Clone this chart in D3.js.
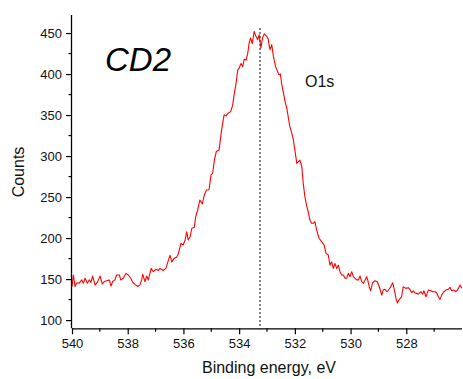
<!DOCTYPE html>
<html>
<head>
<meta charset="utf-8">
<script src="https://cdn.jsdelivr.net/npm/d3@7"></script>
<style>
  html, body { margin: 0; padding: 0; background: #fff; }
  svg { display: block; font-family: Arial, "Liberation Sans", sans-serif; }
</style>
</head>
<body>
<svg id="chart" width="463" height="379"></svg>
<script>
// Binding energy (eV) and counts
const energy = [
  540.00, 539.95, 539.89, 539.83, 539.74, 539.65, 539.59, 539.53, 539.45, 539.38,
  539.32, 539.26, 539.17, 539.09, 538.99, 538.91, 538.84, 538.75, 538.66, 538.60,
  538.54, 538.46, 538.40, 538.30, 538.25, 538.16, 538.06, 537.98, 537.89, 537.82,
  537.74, 537.64, 537.56, 537.50, 537.46, 537.38, 537.32, 537.26, 537.16, 537.08,
  536.98, 536.90, 536.84, 536.72, 536.63, 536.54, 536.48, 536.42, 536.34, 536.24,
  536.18, 536.09, 536.01, 535.94, 535.88, 535.83, 535.76, 535.70, 535.61, 535.56,
  535.49, 535.41, 535.32, 535.25, 535.17, 535.08, 535.01, 534.95, 534.89, 534.82,
  534.72, 534.63, 534.54, 534.47, 534.39, 534.30, 534.23, 534.19, 534.11, 534.05,
  534.00, 533.93, 533.87, 533.82, 533.75, 533.69, 533.64, 533.59, 533.53, 533.46,
  533.40, 533.33, 533.28, 533.22, 533.16, 533.10, 533.01, 532.95, 532.93, 532.89,
  532.83, 532.77, 532.69, 532.62, 532.57, 532.52, 532.47, 532.42, 532.35, 532.29,
  532.24, 532.18, 532.11, 532.06, 532.00, 531.93, 531.88, 531.82, 531.75, 531.70,
  531.64, 531.58, 531.52, 531.46, 531.40, 531.34, 531.28, 531.22, 531.13, 531.04,
  530.95, 530.88, 530.80, 530.74, 530.68, 530.62, 530.56, 530.50, 530.44, 530.38,
  530.32, 530.26, 530.20, 530.14, 530.08, 530.02, 529.96, 529.90, 529.84, 529.78,
  529.72, 529.66, 529.60, 529.54, 529.48, 529.42, 529.37, 529.33, 529.28, 529.21,
  529.12, 529.04, 528.97, 528.88, 528.83, 528.77, 528.70, 528.65, 528.56, 528.49,
  528.44, 528.37, 528.32, 528.25, 528.17, 528.11, 528.01, 527.93, 527.87, 527.81,
  527.75, 527.69, 527.63, 527.57, 527.48, 527.41, 527.37, 527.29, 527.21, 527.12,
  527.05, 526.97, 526.91, 526.85, 526.79, 526.73, 526.65, 526.58, 526.49, 526.43,
  526.37, 526.29, 526.22, 526.16, 526.07, 526.01
];
const counts = [
  140.6, 155.0, 141.0, 145.5, 145.0, 149.0, 145.0, 151.0, 145.0, 149.0,
  146.0, 153.7, 142.7, 146.0, 153.7, 144.0, 147.0, 148.0, 149.0, 141.5,
  147.0, 149.0, 155.0, 155.0, 149.0, 151.0, 157.0, 155.0, 151.0, 146.0,
  143.5, 141.0, 143.0, 149.0, 155.8, 147.0, 153.7, 149.0, 163.0, 159.0,
  162.0, 160.5, 163.0, 160.5, 163.0, 173.0, 179.0, 171.0, 175.0, 177.0,
  181.0, 193.6, 191.6, 197.7, 207.8, 197.7, 201.7, 212.0, 213.0, 226.0,
  234.0, 246.5, 241.6, 252.6, 258.7, 259.0, 277.0, 279.0, 295.0, 305.5,
  307.5, 332.0, 350.3, 349.0, 352.4, 354.4, 362.5, 372.7, 389.0, 405.0,
  407.3, 413.0, 409.0, 418.0, 417.0, 425.6, 438.0, 444.0, 437.0, 452.0,
  446.0, 442.0, 448.0, 431.7, 444.0, 449.0, 446.0, 442.0, 435.8, 429.7,
  435.8, 421.5, 409.0, 403.0, 399.0, 400.0, 387.0, 378.8, 366.5, 358.5,
  348.0, 336.0, 328.0, 321.0, 307.5, 291.0, 293.0, 295.0, 287.0, 267.0,
  250.5, 240.0, 232.0, 222.0, 218.0, 218.0, 220.0, 210.0, 199.8, 195.6,
  191.6, 181.4, 179.4, 167.0, 171.0, 163.0, 169.0, 163.0, 167.0, 159.0,
  155.0, 155.0, 151.0, 151.0, 157.0, 153.0, 159.0, 153.0, 151.0, 149.0,
  149.0, 153.7, 146.8, 144.8, 149.0, 153.0, 146.8, 140.7, 135.8, 145.5,
  148.0, 146.8, 140.7, 130.5, 136.6, 137.5, 134.6, 136.0, 140.7, 145.5,
  138.7, 126.5, 121.0, 125.3, 128.4, 140.7, 138.7, 139.5, 137.5, 133.3,
  135.8, 133.3, 132.6, 131.7, 134.6, 131.7, 135.8, 128.4, 136.6, 135.8,
  134.6, 134.6, 133.3, 128.4, 125.3, 130.5, 134.6, 136.6, 137.5, 140.0,
  135.8, 136.6, 134.6, 136.6, 142.7, 138.7
];
const xTicks = [540, 538, 536, 534, 532, 530, 528];
const xMinorTicks = [539, 537, 535, 533, 531, 529, 527];
const yTicks = [100, 150, 200, 250, 300, 350, 400, 450];
const yMinorTicks = [125, 175, 225, 275, 325, 375, 425];
const peakEnergy = 533.25;
const sampleLabel = "CD2";
const peakLabel = "O1s";
const xTitle = "Binding energy, eV";
const yTitle = "Counts";

(function () {
const svg = d3.select("#chart");
const plotL = 72, plotR = 462, plotT = 15, plotB = 328.3;

const x = d3.scaleLinear().domain([540, 526]).range([plotL, plotR]);
const y = d3.scaleLinear().domain([90, 472]).range([plotB, plotT]);

const data = energy.map((e, i) => ({ e, c: counts[i] }));

// Spectrum
svg.append("path")
  .datum(data)
  .attr("fill", "none")
  .attr("stroke", "#ff0000")
  .attr("stroke-width", 1.1)
  .attr("stroke-linejoin", "round")
  .attr("d", d3.line().x(d => x(d.e)).y(d => y(d.c)));

// Peak marker (dotted vertical)
svg.append("line")
  .attr("x1", x(peakEnergy)).attr("x2", x(peakEnergy))
  .attr("y1", 28).attr("y2", plotB)
  .attr("stroke", "#333")
  .attr("stroke-width", 1.2)
  .attr("stroke-dasharray", "2,2");

// Axes
const xAxis = d3.axisBottom(x).tickValues(xTicks).tickFormat(d3.format("d")).tickSize(6).tickPadding(4);
const yAxis = d3.axisLeft(y).tickValues(yTicks).tickFormat(d3.format("d")).tickSize(6).tickPadding(4);

const gx = svg.append("g").attr("transform", `translate(0,${plotB})`).call(xAxis);
gx.select(".domain").attr("d", `M${plotL},0.5H${plotR}`).attr("stroke-width", 1.3);
gx.selectAll("text").attr("font-size", 13).attr("fill", "#111").attr("font-family", "Arial, 'Liberation Sans', sans-serif");
gx.selectAll(".tick line").attr("stroke-width", 1.2);
gx.selectAll(".minor").data(xMinorTicks).enter().append("line")
  .attr("class", "minor")
  .attr("x1", d => x(d)).attr("x2", d => x(d))
  .attr("y1", 0).attr("y2", 3.5)
  .attr("stroke", "#000").attr("stroke-width", 1.2);

const gy = svg.append("g").attr("transform", `translate(${plotL},0)`).call(yAxis);
gy.select(".domain").attr("d", `M-0.5,${plotT}V${plotB}`).attr("stroke-width", 1.3);
gy.selectAll("text").attr("font-size", 13).attr("fill", "#111").attr("font-family", "Arial, 'Liberation Sans', sans-serif");
gy.selectAll(".tick line").attr("stroke-width", 1.2);
gy.selectAll(".minor").data(yMinorTicks).enter().append("line")
  .attr("class", "minor")
  .attr("x1", 0).attr("x2", -3.5)
  .attr("y1", d => y(d)).attr("y2", d => y(d))
  .attr("stroke", "#000").attr("stroke-width", 1.2);

// Titles
svg.append("text")
  .attr("x", 269).attr("y", 373)
  .attr("text-anchor", "middle")
  .attr("font-size", 16).attr("fill", "#111")
  .text(xTitle);

svg.append("text")
  .attr("transform", "translate(24,172) rotate(-90)")
  .attr("text-anchor", "middle")
  .attr("font-size", 16).attr("fill", "#111")
  .text(yTitle);

svg.append("text")
  .attr("x", 105).attr("y", 71)
  .attr("font-size", 33).attr("font-style", "italic").attr("fill", "#000")
  .text(sampleLabel);

svg.append("text")
  .attr("x", 305).attr("y", 87)
  .attr("font-size", 16).attr("fill", "#111")
  .text(peakLabel);
})();
</script>
</body>
</html>
